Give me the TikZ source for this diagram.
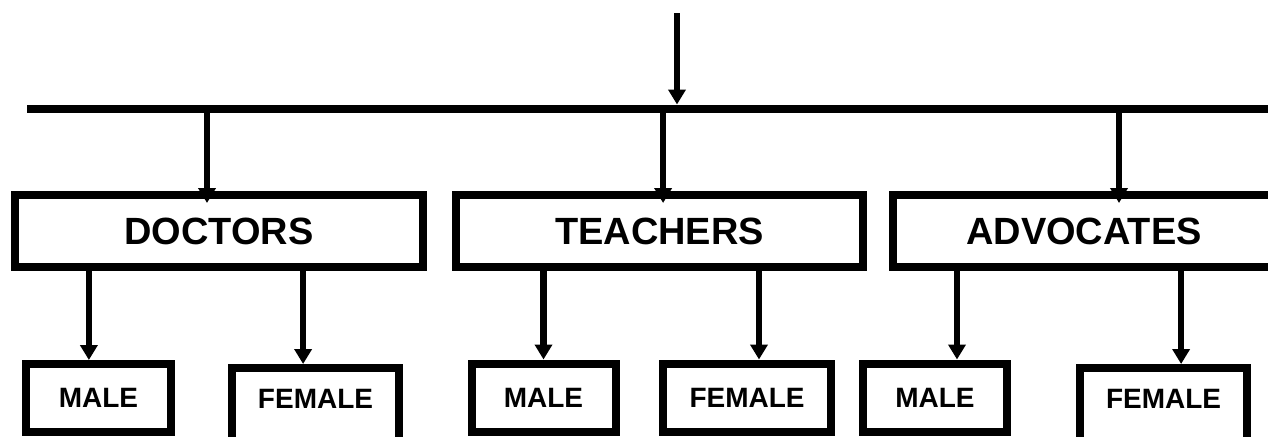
\documentclass[tikz,border=0pt]{standalone}
\usepackage{fontspec}
\setmainfont{Liberation Sans}
\usetikzlibrary{arrows.meta}

\begin{document}
\begin{tikzpicture}[x=0.25mm, y=-0.25mm,
		every node/.style={ rectangle, draw, line width=2mm,
				text=black, font=\bfseries\fontsize{27}{32}\selectfont },
		group/.style={ minimum height=18mm },
		leaf/.style={ font=\bfseries\fontsize{19.9}{24}\selectfont,
				minimum width=36mm, minimum height=17mm },
		openleaf/.style={ leaf, minimum width=41.75mm,
				minimum height=21mm, text depth=5.5mm },
		arr/.style={ line width=1.6mm,
				-{Triangle[width=4.25mm,length=3.75mm]} } ]

	\useasboundingbox (0,0) rectangle (1268,436);

	\node[group, minimum width=102mm] (doctors) at (219,231) {DOCTORS};
	\node[group, minimum width=101.75mm] (teachers) at (659.5,231) {TEACHERS};
	\node[group, minimum width=95.5mm] (advocates) at (1084,231) {ADVOCATES};

	\node[leaf] (dmale) at (98.5,398) {MALE};
	\node[openleaf] (dfemale) at (315.5,410) {FEMALE};
	\node[leaf] (tmale) at (543.5,397.5) {MALE};
	\node[leaf, minimum width=42mm] (tfemale) at (747,397.5) {FEMALE};
	\node[leaf] (amale) at (935,397.5) {MALE};
	\node[openleaf] (afemale) at (1163.5,410) {FEMALE};

	\coordinate (src) at (677,13);
	\coordinate (busL) at (27,108.5);
	\coordinate (busR) at (1290,108.5);

	\draw[line width=2mm] (busL) -- (busR);
	\draw[arr, shorten >=1mm] (src) -- (src |- busL);

	\draw[arr, shorten >=-3mm] ([xshift=-3mm]doctors.north |- busL) -- ([xshift=-3mm]doctors.north);
	\draw[arr, shorten >=-3mm] ([xshift=0.9mm]teachers.north |- busL) -- ([xshift=0.9mm]teachers.north);
	\draw[arr, shorten >=-3mm] ([xshift=8.75mm]advocates.north |- busL) -- ([xshift=8.75mm]advocates.north);

	\draw[arr] ([xshift=-2.4mm]dmale.north |- doctors.south) -- ([xshift=-2.4mm]dmale.north);
	\draw[arr] ([xshift=-3.1mm]dfemale.north |- doctors.south) -- ([xshift=-3.1mm]dfemale.north);
	\draw[arr] (tmale.north |- teachers.south) -- (tmale.north);
	\draw[arr] ([xshift=3mm]tfemale.north |- teachers.south) -- ([xshift=3mm]tfemale.north);
	\draw[arr] ([xshift=5.5mm]amale.north |- advocates.south) -- ([xshift=5.5mm]amale.north);
	\draw[arr] ([xshift=4.4mm]afemale.north |- advocates.south) -- ([xshift=4.4mm]afemale.north);
\end{tikzpicture}
\end{document}
